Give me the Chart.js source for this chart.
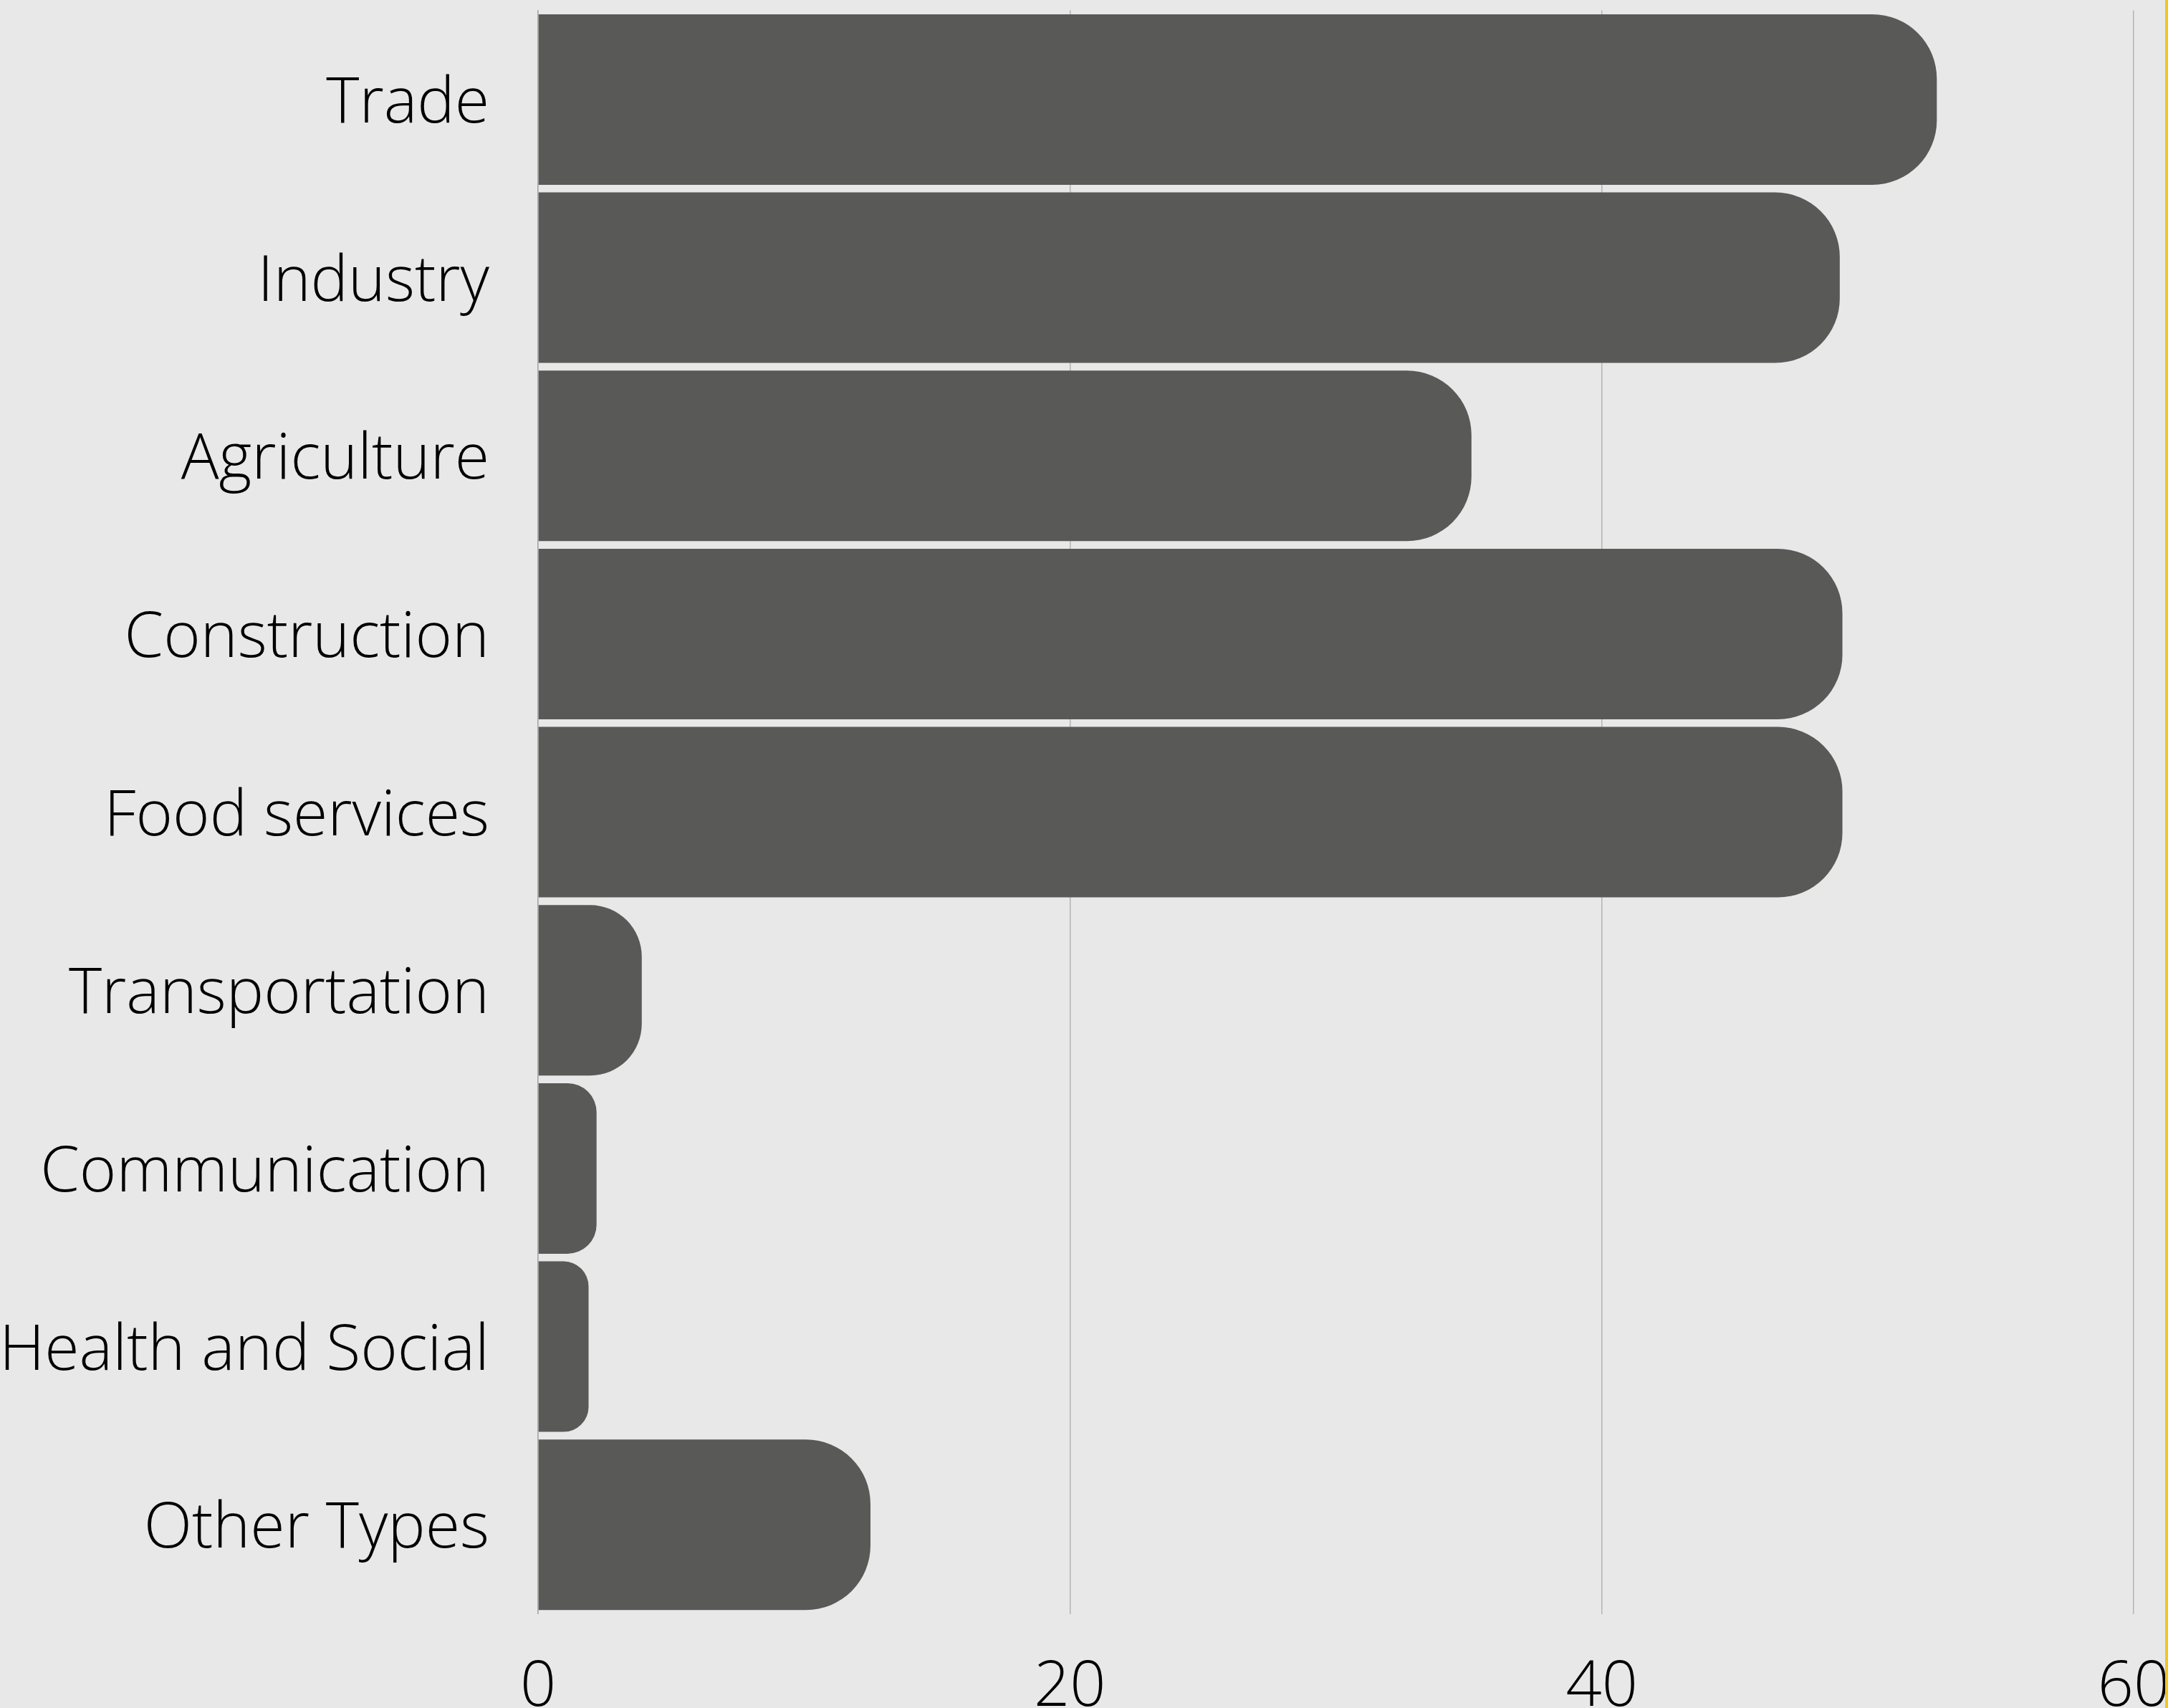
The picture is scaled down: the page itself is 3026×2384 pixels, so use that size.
<!DOCTYPE html>
<html>
<head>
<meta charset="utf-8">
<script src="https://cdn.jsdelivr.net/npm/chart.js@4/dist/chart.umd.min.js"></script>
<style>
  html, body { margin: 0; padding: 0; background: #e8e8e8; }
  #wrap { width: 3022px; height: 2384px; border-right: 4px solid #f1c81b; background: #e8e8e8; }
  canvas { display: block; }
</style>
</head>
<body>
<div id="wrap"><canvas id="c" width="3022" height="2384"></canvas></div>
<script>
const categories = ["Trade", "Industry", "Agriculture", "Construction", "Food services", "Transportation", "Communication", "Health and Social", "Other Types"];
const values = [52.6, 48.95, 35.1, 49.05, 49.05, 3.9, 2.2, 1.9, 12.5];
const xTicks = [0, 20, 40, 60];

const FONT = { family: "'Open Sans', sans-serif", size: 88, weight: '300' };

new Chart(document.getElementById('c'), {
  type: 'bar',
  data: {
    labels: categories,
    datasets: [{
      data: values,
      backgroundColor: '#595957',
      borderWidth: 0,
      borderRadius: { topRight: 90, bottomRight: 90 },
      borderSkipped: 'start',
      categoryPercentage: 1,
      barPercentage: 0.957
    }]
  },
  options: {
    indexAxis: 'y',
    responsive: false,
    animation: false,
    devicePixelRatio: 1,
    layout: { padding: { top: 14.6, right: 44, left: 0, bottom: 0 } },
    plugins: { legend: { display: false }, tooltip: { enabled: false } },
    scales: {
      x: {
        min: 0, max: 60,
        afterBuildTicks: (s) => { s.ticks = xTicks.map(v => ({ value: v })); },
        grid: { color: '#b3b3b3', lineWidth: 1.5, drawTicks: false },
        border: { display: false },
        ticks: { color: '#000', font: FONT, padding: 51, maxRotation: 0 },
        afterFit: (s) => { s.height = 131.4; s.paddingLeft = 0; s.paddingRight = 0; }
      },
      y: {
        grid: { display: false, drawTicks: false },
        border: { display: true, color: '#a8a8a8', width: 1.5 },
        ticks: { color: '#000', font: FONT, padding: 68, labelOffset: 7 },
        afterFit: (s) => { s.width = 751; s.paddingTop = 0; s.paddingBottom = 0; }
      }
    }
  }
});
</script>
</body>
</html>
